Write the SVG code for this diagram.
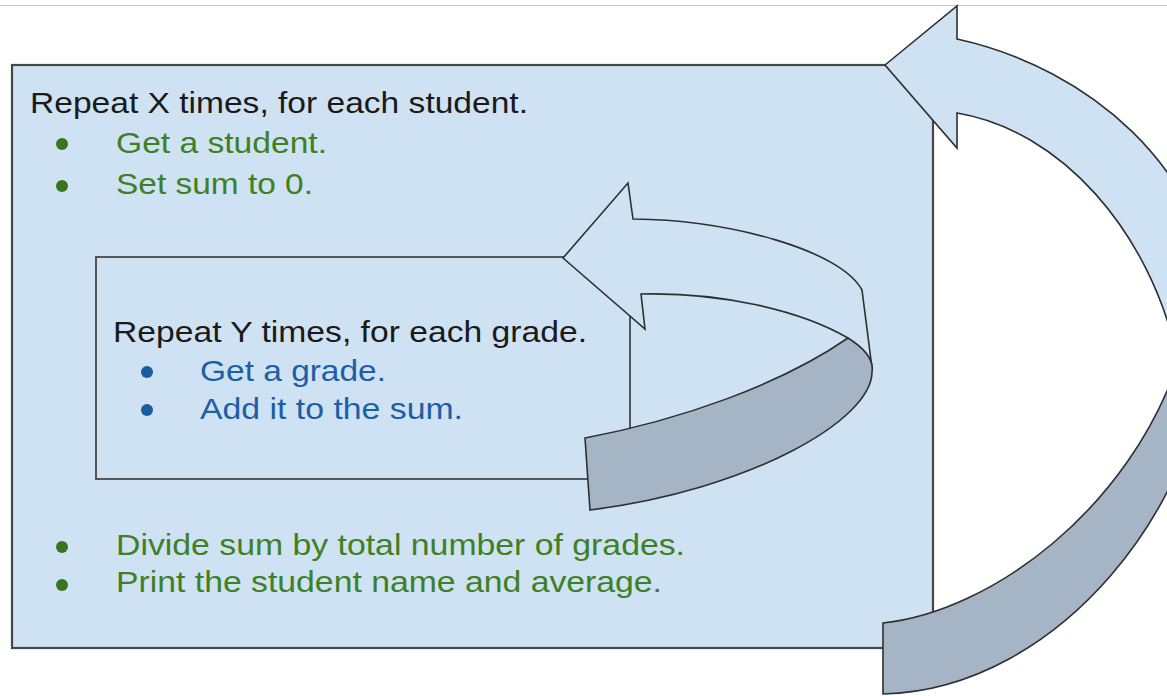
<svg xmlns="http://www.w3.org/2000/svg" width="1167" height="696" viewBox="0 0 1167 696">
<style>
  .t { font-family: "Liberation Sans", Arial, sans-serif; font-size: 29.5px; }
  .blk { fill: #1a1a1a; }
  .grn { fill: #3e8026; }
  .blu { fill: #1d5ea6; }
  .bg { fill: #38761d; }
  .bb { fill: #1b5ba0; }
  .box { fill: #cfe2f3; stroke: #474747; }
  .arrL { fill: #cfe2f3; stroke: #2f2f2f; stroke-width: 1.6; stroke-linejoin: miter; }
  .arrD { fill: #a5b5c6; stroke: #2f2f2f; stroke-width: 1.6; stroke-linejoin: miter; }
</style>
<rect x="0" y="0" width="1167" height="696" fill="#ffffff"/>
<line x1="0" y1="5.5" x2="1167" y2="5.5" stroke="#c6c6c6" stroke-width="1.2"/>

<g id="outer-loop">
  <rect class="box" x="12" y="65" width="921" height="583" stroke-width="2.2"/>
  <text class="t blk" x="30" y="113" textLength="498" lengthAdjust="spacingAndGlyphs">Repeat X times, for each student.</text>
  <circle class="bg" cx="62" cy="144" r="6"/>
  <text class="t grn" x="116" y="153" textLength="211" lengthAdjust="spacingAndGlyphs">Get a student.</text>
  <circle class="bg" cx="62" cy="186" r="6"/>
  <text class="t grn" x="116" y="194" textLength="197" lengthAdjust="spacingAndGlyphs">Set sum to 0.</text>
  <circle class="bg" cx="62" cy="547" r="6"/>
  <text class="t grn" x="116" y="555" textLength="569" lengthAdjust="spacingAndGlyphs">Divide sum by total number of grades.</text>
  <circle class="bg" cx="62" cy="585" r="6"/>
  <text class="t grn" x="116" y="592" textLength="546" lengthAdjust="spacingAndGlyphs">Print the student name and average.</text>
</g>

<g id="inner-loop">
  <rect class="box" x="96" y="257" width="534" height="222" stroke-width="1.8"/>
  <text class="t blk" x="113" y="342" textLength="474" lengthAdjust="spacingAndGlyphs">Repeat Y times, for each grade.</text>
  <circle class="bb" cx="147" cy="372" r="6"/>
  <text class="t blu" x="200" y="381" textLength="186" lengthAdjust="spacingAndGlyphs">Get a grade.</text>
  <circle class="bb" cx="147" cy="410" r="6"/>
  <text class="t blu" x="200" y="419" textLength="263" lengthAdjust="spacingAndGlyphs">Add it to the sum.</text>
</g>

<g id="connectors">
  <g id="inner-arrow">
    <path class="arrL" d="M 563 258 L 628 183 L 633 219 C 730 220, 840 250, 862 290 L 872 368 L 848 338 C 800 310, 720 292, 641 294 L 645 329 Z"/>
    <path class="arrD" d="M 848 338 C 864 348, 874 360, 872 372 C 872 420, 750 490, 590 510 L 585 438 C 680 420, 780 385, 848 338 Z"/>
  </g>
  <g id="outer-arrow">
    <path class="arrL" d="M 885 65 L 957 6 L 957 39 C 1090 68, 1205 170, 1215 300 L 1178 360 C 1150 230, 1060 130, 957 113 L 957 148 Z"/>
    <path class="arrD" d="M 883 623 L 883 694 C 1060 690, 1205 500, 1208 340 L 1180 357 C 1130 510, 990 612, 883 623 Z"/>
  </g>
</g>
</svg>
